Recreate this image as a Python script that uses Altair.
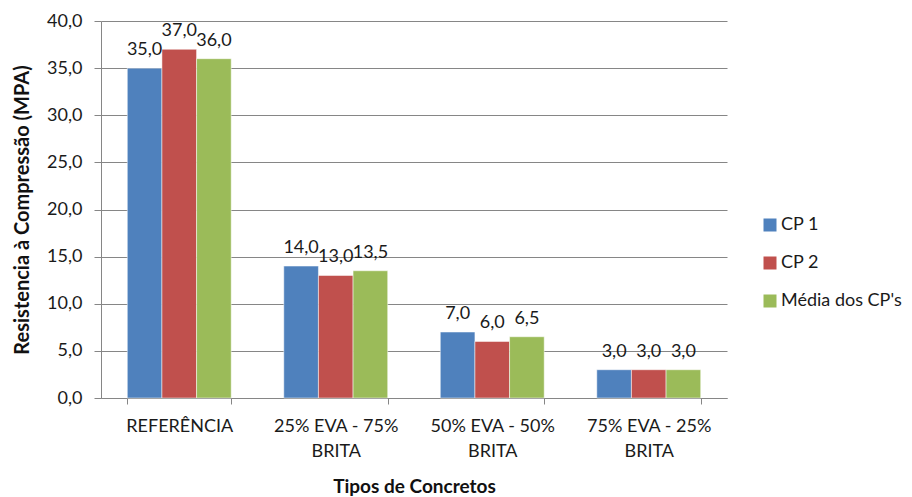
import altair as alt
import pandas as pd

categories = ["REFERÊNCIA", "25% EVA - 75%|BRITA", "50% EVA - 50%|BRITA", "75% EVA - 25%|BRITA"]
series = ["CP 1", "CP 2", "Média dos CP's"]
cp1 = [35.0, 14.0, 7.0, 3.0]
cp2 = [37.0, 13.0, 6.0, 3.0]
media = [36.0, 13.5, 6.5, 3.0]
colors = ["#4F81BD", "#C0504D", "#9BBB59"]

rows = []
for s, vals in zip(series, [cp1, cp2, media]):
    for c, v in zip(categories, vals):
        rows.append({"cat": c, "serie": s, "valor": v})
df = pd.DataFrame(rows)

FONT = "Lato"
FS = 18

base = alt.Chart(df).encode(
    x=alt.X("cat:N", sort=categories, title="Tipos de Concretos",
            scale=alt.Scale(paddingInner=0.336, paddingOuter=0.168),
            axis=alt.Axis(labelAngle=0, labelExpr="split(datum.label, '|')",
                          labelFont=FONT, labelFontSize=FS, labelColor="#1a1a1a",
                          labelLineHeight=25, labelPadding=13,
                          tickBand="extent", tickSize=6, tickColor="#868686",
                          domainColor="#868686", titleFont=FONT, titleFontSize=19,
                          titleFontWeight="bold", titleColor="#111", titlePadding=17)),
    xOffset=alt.XOffset("serie:N", sort=series),
)

bars = base.mark_bar(stroke="white", strokeWidth=0.5).encode(
    y=alt.Y("valor:Q", title="Resistencia à Compressão (MPA)",
            scale=alt.Scale(domain=[0, 40], nice=False),
            axis=alt.Axis(values=[0, 5, 10, 15, 20, 25, 30, 35, 40],
                          labelExpr="replace(format(datum.value, '.1f'), '.', ',')",
                          labelFont=FONT, labelFontSize=FS, labelColor="#1a1a1a",
                          gridColor="#868686", domainColor="#868686",
                          tickColor="#868686", tickSize=7, labelPadding=12,
                          titleFont=FONT, titleFontSize=20, titleFontWeight="bold",
                          titleColor="#111", titlePadding=14)),
    color=alt.Color("serie:N", sort=series,
                    scale=alt.Scale(domain=series, range=colors),
                    legend=alt.Legend(title=None, orient="none", legendX=660, legendY=195,
                                      symbolType="square", symbolSize=169,
                                      symbolStrokeWidth=0, labelFont=FONT,
                                      labelFontSize=FS, labelColor="#1a1a1a",
                                      rowPadding=20, padding=0, labelOffset=2)),
)

labels = base.mark_text(baseline="alphabetic", dy=-13, font=FONT, fontSize=FS, color="#1a1a1a").encode(
    y=alt.Y("valor:Q"),
    text="txt:N",
).transform_calculate(txt="replace(format(datum.valor, '.1f'), '.', ',')")

chart = (bars + labels).properties(
    width=626, height=377,
    autosize=alt.AutoSizeParams(type="none"),
    padding={"left": 93, "top": 13, "right": 177, "bottom": 99},
).configure_view(stroke=None).configure_axisY(grid=True).configure_axisX(grid=False)

chart.save("out.html", embed_options={"renderer": "svg", "actions": False})
